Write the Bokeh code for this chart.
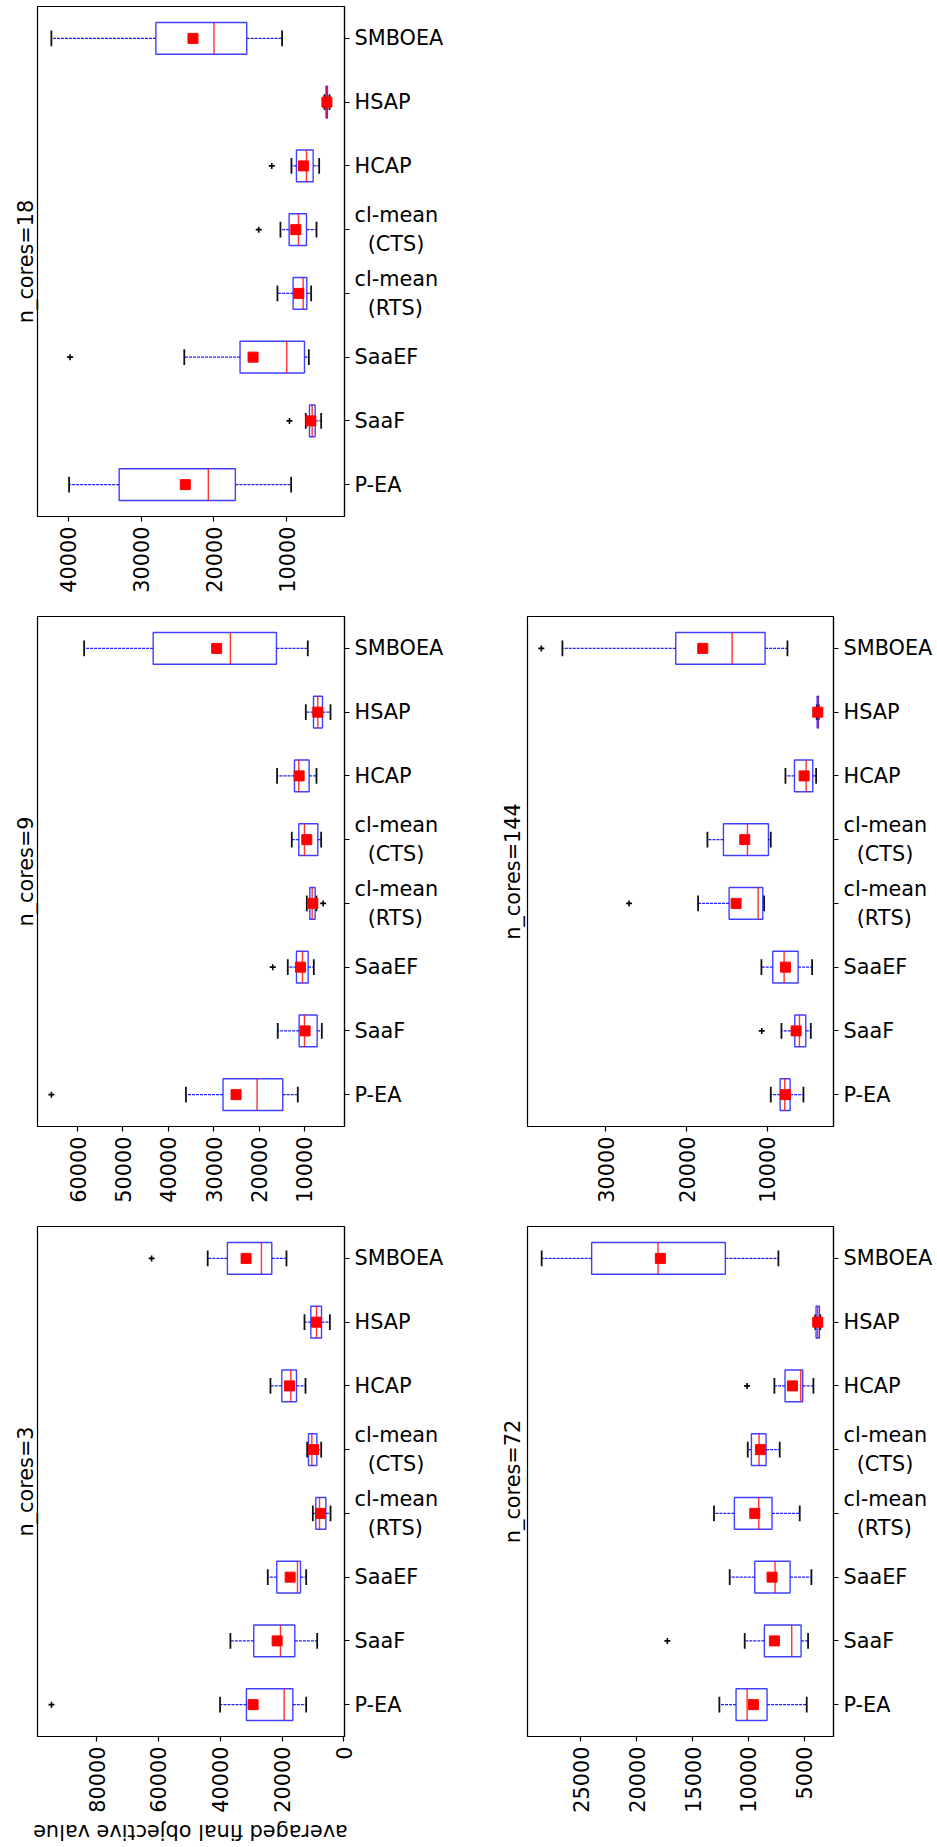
import math
from bokeh.plotting import figure
from bokeh.models import FactorRange, Range1d, FixedTicker, Title, NumeralTickFormatter
from bokeh.layouts import column, row
from bokeh.embed import file_html
from bokeh.resources import INLINE
from bokeh.core.properties import value

NB = "\u00a0"
categories = ["P-EA", "SaaF", "SaaEF", "cl-mean\n" + NB * 2 + "(RTS)",
              "cl-mean\n" + NB * 2 + "(CTS)", "HCAP", "HSAP", "SMBOEA"]
x_label = "averaged final objective value"

# ---- n_cores=18 ----
n18_whi = [39869, 7397, 24067, 11290, 10878, 9366, 4832, 42296]
n18_q3 = [33000, 6893, 16419, 9137, 9687, 8680, 4620, 27961]
n18_med = [20770, 6527, 10007, 7763, 8405, 7305, 4511, 19992]
n18_q1 = [17060, 6114, 7580, 7259, 7305, 6389, 4430, 15503]
n18_wlo = [9412, 5290, 6984, 6664, 5931, 5565, 4150, 10649]
n18_mean = [23930, 6710, 14633, 8359, 8771, 7717, 4500, 22877]
n18_out_cat = ["SaaF", "SaaEF", categories[4], "HCAP"]
n18_out_val = [9641, 39730, 13854, 12067]
n18_lim = [44200, 2090]
n18_ticks = [10000, 20000, 30000, 40000]

# ---- n_cores=9 ----
n9_whi = [36113, 15879, 13671, 9477, 12788, 16026, 9698, 58554]
n9_q3 = [27946, 11170, 11758, 8815, 11243, 12200, 8005, 43337]
n9_med = [20440, 9992, 10433, 8300, 9992, 11243, 7049, 26326]
n9_q1 = [14775, 7196, 9183, 7638, 7049, 8962, 6019, 16172]
n9_wlo = [11464, 6166, 7932, 7343, 6313, 7343, 4253, 9257]
n9_mean = [25075, 9845, 10875, 8153, 9477, 11170, 7049, 29343]
n9_out_cat = ["P-EA", "SaaEF", categories[3]]
n9_out_val = [65764, 16982, 5872]
n9_lim = [68830, 1170]
n9_ticks = [10000, 20000, 30000, 40000, 50000, 60000]

# ---- n_cores=3 ----
n3_whi = [40053, 36706, 24615, 10040, 11875, 23751, 12739, 44048]
n3_q3 = [31524, 29149, 21700, 9069, 11444, 20081, 10688, 37678]
n3_med = [19325, 20512, 15006, 7881, 10364, 17165, 8853, 26666]
n3_q1 = [16518, 15870, 14035, 5830, 8745, 15330, 7233, 23319]
n3_wlo = [12199, 8637, 12199, 4318, 7341, 12415, 4534, 18569]
n3_mean = [29365, 21592, 17382, 7557, 9824, 17597, 8853, 31632]
n3_out_cat = ["P-EA", "SMBOEA"]
n3_out_val = [94573, 62185]
n3_lim = [99100, -200]
n3_ticks = [0, 20000, 40000, 60000, 80000]

# ---- n_cores=144 ----
n144_whi = [9591, 8271, 10746, 18583, 17428, 7776, 3900, 35372]
n144_q3 = [8436, 6621, 9343, 14747, 15448, 6662, 3850, 21347]
n144_med = [7858, 6043, 7941, 11158, 12478, 5218, 3774, 14376]
n144_q1 = [7198, 5259, 6208, 10581, 9880, 4393, 3700, 10292]
n144_wlo = [5548, 4641, 4476, 10416, 9591, 3981, 3650, 7528]
n144_mean = [7776, 6456, 7776, 13881, 12808, 5466, 3774, 18006]
n144_out_cat = ["SaaF", categories[3], "SMBOEA"]
n144_out_val = [10704, 27122, 37977]
n144_lim = [39690, 1830]
n144_ticks = [10000, 20000, 30000]

# ---- n_cores=72 ----
n72_whi = [12593, 10323, 11667, 13071, 10052, 7665, 4000, 28509]
n72_q3 = [11100, 8563, 9424, 11249, 9723, 6709, 3931, 24034]
n72_med = [10111, 6112, 7605, 9066, 9036, 5305, 3782, 18089]
n72_q1 = [8322, 5275, 6258, 7874, 8409, 5126, 3632, 12056]
n72_wlo = [4767, 4648, 4349, 5394, 7187, 4170, 3550, 7306]
n72_mean = [9544, 7665, 7874, 9424, 8917, 6051, 3782, 17880]
n72_out_cat = ["SaaF", "HCAP"]
n72_out_val = [17253, 10111]
n72_lim = [29780, 2370]
n72_ticks = [5000, 10000, 15000, 20000, 25000]

FONT = "DejaVu Sans"
FS = "20.8px"
BLUE = "#1f1fff"


def make_panel(title, whi, q3, med, q1, wlo, mean, out_cat, out_val, lim, ticks,
               fw, bl, br, bt, bb, title_standoff):
    p = figure(y_range=FactorRange(*categories), x_range=Range1d(lim[0], lim[1]),
               frame_width=fw, frame_height=510,
               min_border_left=bl, min_border_right=br, min_border_top=bt, min_border_bottom=bb,
               y_axis_location="right", output_backend="svg", toolbar_location=None)
    p.xgrid.visible = False
    p.ygrid.visible = False
    p.outline_line_color = "black"
    p.outline_line_width = 1.2
    p.background_fill_color = "white"
    p.border_fill_color = "white"

    ax = p.xaxis[0]
    ax.ticker = FixedTicker(ticks=ticks)
    ax.formatter = NumeralTickFormatter(format="0")
    ax.major_label_orientation = math.pi / 2
    ax.major_tick_out = 5
    ax.major_tick_in = 0
    ax.minor_tick_out = 0
    ax.minor_tick_in = 0
    ax.major_label_standoff = 5
    ay = p.yaxis[0]
    ay.major_tick_out = 5
    ay.major_tick_in = 0
    ay.major_label_standoff = 5
    for a in (ax, ay):
        a.axis_line_color = "black"
        a.axis_line_width = 1.2
        a.major_tick_line_color = "black"
        a.major_tick_line_width = 1.2
        a.major_label_text_font = FONT
        a.major_label_text_font_size = FS
        a.major_label_text_color = "black"

    cats = categories
    cap0 = [(c, -0.125) for c in cats]
    cap1 = [(c, 0.125) for c in cats]
    box0 = [(c, -0.25) for c in cats]
    box1 = [(c, 0.25) for c in cats]

    # whiskers
    p.segment(x0=q3, y0=cats, x1=whi, y1=cats, line_color=BLUE, line_width=1.1, line_dash="3 1")
    p.segment(x0=q1, y0=cats, x1=wlo, y1=cats, line_color=BLUE, line_width=1.1, line_dash="3 1")
    # caps
    p.segment(x0=whi, y0=cap0, x1=whi, y1=cap1, line_color="#111111", line_width=1.8)
    p.segment(x0=wlo, y0=cap0, x1=wlo, y1=cap1, line_color="#111111", line_width=1.8)
    # boxes
    p.hbar(y=cats, left=q1, right=q3, height=0.5, fill_color=None,
           line_color=BLUE, line_width=1.4, line_alpha=0.85)
    # medians
    p.segment(x0=med, y0=box0, x1=med, y1=box1, line_color="red", line_width=1.4, line_alpha=0.8)
    # means
    p.scatter(x=mean, y=cats, marker="square", size=10, fill_color="red", line_color="red")
    # outliers
    p.scatter(x=out_val, y=out_cat, marker="cross", size=6, line_width=1.6, line_color="black")

    p.add_layout(Title(text=title, align="center", text_font=FONT, text_font_size=FS,
                       text_font_style="normal", text_color="black",
                       standoff=title_standoff), "left")
    return p


p18 = make_panel("n_cores=18", n18_whi, n18_q3, n18_med, n18_q1, n18_wlo, n18_mean,
                 n18_out_cat, n18_out_val, n18_lim, n18_ticks, 307, 37, 126, 6, 80, 0)
p9 = make_panel("n_cores=9", n9_whi, n9_q3, n9_med, n9_q1, n9_wlo, n9_mean,
                n9_out_cat, n9_out_val, n9_lim, n9_ticks, 307, 37, 126, 20, 80, 0)
p3 = make_panel("n_cores=3", n3_whi, n3_q3, n3_med, n3_q1, n3_wlo, n3_mean,
                n3_out_cat, n3_out_val, n3_lim, n3_ticks, 307, 37, 126, 20, 79, 0)
p144 = make_panel("n_cores=144", n144_whi, n144_q3, n144_med, n144_q1, n144_wlo, n144_mean,
                  n144_out_cat, n144_out_val, n144_lim, n144_ticks, 306, 57, 100, 20, 80, 6)
p72 = make_panel("n_cores=72", n72_whi, n72_q3, n72_med, n72_q1, n72_wlo, n72_mean,
                 n72_out_cat, n72_out_val, n72_lim, n72_ticks, 306, 57, 100, 20, 79, 6)

# upside-down x-axis title under the n_cores=3 panel (as in the reference)
lab = figure(x_range=Range1d(-1, 1), y_range=Range1d(-1, 1),
             frame_width=380, frame_height=32,
             min_border_left=0, min_border_right=90, min_border_top=0, min_border_bottom=0,
             x_axis_location=None, y_axis_location=None,
             output_backend="svg", toolbar_location=None)
lab.outline_line_color = None
lab.xgrid.visible = False
lab.ygrid.visible = False
lab.text(x=[0], y=[0], text=[x_label], angle=math.pi, text_align="center",
         text_baseline="middle", text_font=value(FONT), text_font_size=value(FS),
         text_color="black")

layout = column(row(p18), row(p9, p144), row(p3, p72), row(lab), spacing=0)
open("out.html", "w").write(file_html(layout, INLINE))
